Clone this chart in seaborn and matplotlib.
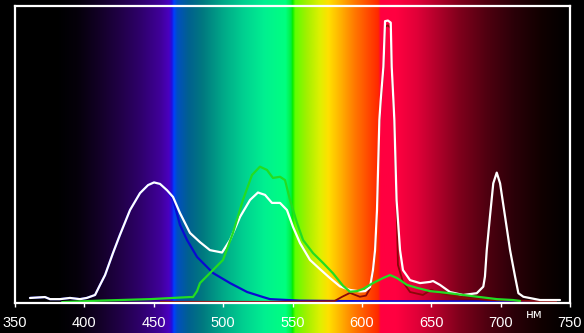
import numpy as np
import pandas as pd
import matplotlib
matplotlib.use("Agg")
import matplotlib.pyplot as plt
import seaborn as sns
from matplotlib.colors import to_rgb

# ---------------- data (wavelength nm, relative intensity) ----------------
white_nm = [360.8, 371.6, 375.2, 382.4, 389.6, 396.8, 401.7, 407.7, 411.3, 414.9,
            420.6, 425.6, 432.9, 440.1, 445.9, 450.2, 454.5, 459.5, 463.9, 468.9,
            476.1, 483.3, 490.5, 499.2, 505.0, 512.2, 519.4, 525.1, 530.2, 535.2,
            541.0, 546.0, 550.4, 555.4, 562.6, 569.8, 577.0, 584.2, 591.4, 598.6,
            602.3, 605.9, 608.0, 609.5, 610.9, 612.6, 613.6, 615.5, 616.7, 618.8,
            620.8, 621.5, 622.7, 623.4, 625.0, 627.5, 629.6, 634.7, 641.9, 649.1,
            651.3, 656.3, 663.5, 672.9, 682.8, 687.5, 688.7, 690.0, 692.3, 694.7,
            697.2, 699.6, 703.2, 706.8, 710.4, 712.8, 716.4, 728.4, 742.8]
white_val = [0.017, 0.020, 0.013, 0.013, 0.017, 0.013, 0.017, 0.027, 0.061, 0.094,
             0.168, 0.229, 0.313, 0.370, 0.397, 0.406, 0.401, 0.380, 0.357, 0.303,
             0.236, 0.205, 0.178, 0.170, 0.212, 0.290, 0.347, 0.372, 0.364, 0.337,
             0.337, 0.313, 0.256, 0.202, 0.145, 0.114, 0.084, 0.056, 0.044, 0.039,
             0.040, 0.054, 0.111, 0.178, 0.313, 0.616, 0.684, 0.795, 0.949, 0.951,
             0.944, 0.795, 0.684, 0.616, 0.347, 0.178, 0.111, 0.077, 0.067, 0.071,
             0.074, 0.061, 0.037, 0.027, 0.033, 0.055, 0.089, 0.178, 0.291, 0.403,
             0.439, 0.403, 0.291, 0.178, 0.089, 0.033, 0.021, 0.010, 0.010]

green_nm = [383.9, 411.3, 447.3, 476.1, 478.3, 481.2, 483.3, 492.7, 499.9, 507.1,
            514.3, 520.8, 526.5, 531.6, 535.9, 541.0, 544.6, 548.2, 553.3, 557.6,
            564.8, 572.0, 579.2, 586.4, 591.4, 596.5, 600.8, 608.0, 615.2, 620.3,
            625.3, 632.5, 639.7, 649.1, 661.3, 672.9, 685.1, 697.4, 708.9, 714.0]
green_val = [0.003, 0.008, 0.013, 0.020, 0.020, 0.040, 0.067, 0.111, 0.145, 0.236,
             0.347, 0.431, 0.459, 0.448, 0.421, 0.425, 0.414, 0.347, 0.269, 0.212,
             0.168, 0.135, 0.100, 0.058, 0.038, 0.040, 0.047, 0.067, 0.084, 0.094,
             0.084, 0.061, 0.051, 0.040, 0.034, 0.027, 0.020, 0.013, 0.010, 0.007]

blue_nm = [360.8, 371.6, 375.2, 382.4, 389.6, 396.8, 401.7, 407.7, 411.3, 414.9,
           420.6, 425.6, 432.9, 440.1, 445.9, 450.2, 454.5, 459.5, 463.9, 468.9,
           474.0, 481.2, 492.7, 505.0, 517.3, 528.8, 533.8, 555.4, 600.0, 728.4]
blue_val = [0.017, 0.020, 0.013, 0.013, 0.017, 0.013, 0.017, 0.027, 0.061, 0.094,
            0.168, 0.229, 0.313, 0.370, 0.397, 0.406, 0.401, 0.380, 0.350, 0.263,
            0.212, 0.155, 0.101, 0.067, 0.037, 0.020, 0.013, 0.008, 0.006, 0.005]

red_nm = [455.0, 540.0, 580.0, 585.8, 591.4, 598.6, 603.0, 605.9, 608.0, 609.5,
          610.9, 612.6, 613.6, 615.5, 616.7, 618.8, 620.8, 621.5, 622.7, 623.4,
          625.0, 626.0, 629.6, 634.7, 644.0, 650.0, 656.0, 672.9, 692.0, 740.0]
red_val = [0.004, 0.004, 0.006, 0.021, 0.034, 0.021, 0.025, 0.049, 0.105, 0.170,
           0.300, 0.600, 0.670, 0.780, 0.930, 0.935, 0.925, 0.780, 0.670, 0.600,
           0.330, 0.128, 0.071, 0.037, 0.027, 0.045, 0.034, 0.017, 0.010, 0.005]

xticks = [350, 400, 450, 500, 550, 600, 650, 700, 750]
unit_label = "нм"

# ---------------- layout ----------------
W, H = 584, 333
L, R, T, B = 15, 570, 6, 303
fig = plt.figure(figsize=(W / 100, H / 100), dpi=100)
fig.patch.set_facecolor("black")

# spectrum background over whole figure
scale = 400.0 / (R - L)
x0 = 350 - L * scale
x1 = 750 + (W - R) * scale
stops = [
    (330, "#000000"), (380, "#000000"), (395, "#05000a"), (410, "#120025"),
    (425, "#200045"), (440, "#2e006a"), (455, "#40009a"), (461, "#4a00c0"),
    (463, "#2010e0"), (464.5, "#0040ff"), (467, "#0050c0"), (475, "#006090"),
    (485, "#007880"), (500, "#00a888"), (515, "#00d090"), (530, "#00f090"),
    (545, "#00ff80"), (549, "#00f040"), (550, "#00ee00"), (552, "#60ff00"),
    (560, "#a0f000"), (570, "#e0f000"), (576, "#ffe000"), (585, "#ffb000"),
    (595, "#ff7800"), (605, "#ff4800"), (612, "#ff2800"), (613.5, "#ff0040"),
    (625, "#ff0040"), (640, "#e00038"), (655, "#b0002a"), (670, "#80001c"),
    (690, "#500010"), (710, "#2a0008"), (730, "#100000"), (750, "#000000"),
    (770, "#000000"),
]
s_nm = [s[0] for s in stops]
s_rgb = np.array([to_rgb(s[1]) for s in stops])
grid = np.linspace(x0, x1, 1500)
rgb = np.stack([np.interp(grid, s_nm, s_rgb[:, i]) for i in range(3)], axis=-1)
bg = fig.add_axes([0, 0, 1, 1])
bg.imshow(rgb[None, :, :], aspect="auto", extent=[x0, x1, 0, 1],
          interpolation="bilinear")
bg.set_xlim(x0, x1)
bg.set_ylim(0, 1)
bg.axis("off")

ax = fig.add_axes([L / W, 1 - B / H, (R - L) / W, (B - T) / H])
ax.patch.set_alpha(0)

series = [
    (blue_nm, blue_val, "#0a0ad2", 1.6),
    (red_nm, red_val, "#8a0808", 1.3),
    (white_nm, white_val, "#ffffff", 1.6),
    (green_nm, green_val, "#22dd22", 1.6),
]
for xs, ys, c, lw in series:
    df = pd.DataFrame({"nm": xs, "v": ys})
    sns.lineplot(data=df, x="nm", y="v", ax=ax, color=c, linewidth=lw,
                 estimator=None, sort=False, legend=False,
                 solid_joinstyle="round", solid_capstyle="round")

ax.set_xlim(350, 750)
ax.set_ylim(0, 1)
ax.set_xlabel("")
ax.set_ylabel("")
ax.set_yticks([])
ax.set_xticks(xticks)
ax.set_xticklabels([str(t) for t in xticks], color="white",
                   fontsize=10.5, family="Liberation Sans")
ax.tick_params(axis="x", colors="white", length=3, width=1, pad=6.5,
               direction="out")
ax.grid(False)
for s in ax.spines.values():
    s.set_color("white")
    s.set_linewidth(1.6)
    s.set_visible(True)

fig.text(534 / W, 1 - 315 / H, unit_label, color="white", fontsize=8.5,
         ha="center", va="center", family="DejaVu Sans")

fig.savefig("out.png", dpi=100, facecolor="black")
